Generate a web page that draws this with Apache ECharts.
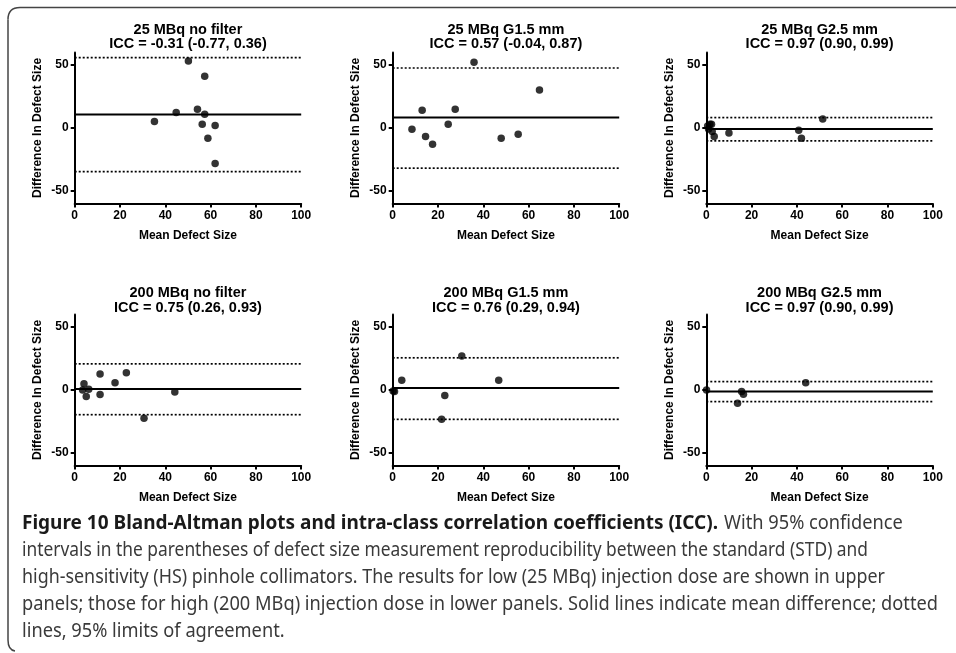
<!DOCTYPE html>
<html><head><meta charset="utf-8">
<script src="https://cdn.jsdelivr.net/npm/echarts@6/dist/echarts.min.js"></script>
<style>html,body{margin:0;padding:0;background:#fff}#c{width:956px;height:653px}</style>
</head><body><div id="c"></div>
<script>
// ---- data ----
const panelTitles = ['25 MBq no filter', '25 MBq G1.5 mm', '25 MBq G2.5 mm',
                     '200 MBq no filter', '200 MBq G1.5 mm', '200 MBq G2.5 mm'];
const iccLabels = ['ICC = -0.31 (-0.77, 0.36)', 'ICC = 0.57 (-0.04, 0.87)', 'ICC = 0.97 (0.90, 0.99)',
                   'ICC = 0.75 (0.26, 0.93)', 'ICC = 0.76 (0.29, 0.94)', 'ICC = 0.97 (0.90, 0.99)'];
const xTicks = [0, 20, 40, 60, 80, 100];
const yTicks = [-50, 0, 50];
const xName = 'Mean Defect Size';
const yName = 'Difference In Defect Size';

const p1Mean = [35.2, 44.8, 50.2, 54.2, 57.4, 57.4, 56.3, 58.8, 62.0, 62.0];
const p1Diff = [5.0, 12.2, 53.2, 14.8, 41.0, 10.8, 2.9, -8.2, 1.9, -28.3];
const p2Mean = [8.5, 13.0, 14.5, 17.6, 24.5, 27.6, 35.9, 47.9, 55.4, 64.8];
const p2Diff = [-1.1, 14.0, -6.9, -13.0, 2.9, 14.8, 52.1, -8.2, -5.0, 30.2];
const p3Mean = [0.6, 1.0, 1.6, 2.3, 2.6, 3.5, 10.0, 40.8, 42.0, 51.4];
const p3Diff = [1.6, -0.8, 2.9, 2.9, -2.9, -6.9, -4.0, -1.9, -8.2, 7.1];
const p4Mean = [3.5, 4.1, 5.1, 6.2, 11.2, 11.2, 17.8, 22.8, 30.6, 44.2];
const p4Diff = [0.0, 4.8, -5.3, 0.6, 12.7, -3.7, 5.6, 13.6, -22.6, -1.6];
const p5Mean = [0.2, 0.8, 4.0, 21.6, 23.0, 30.5, 46.8];
const p5Diff = [-0.8, -1.2, 7.7, -23.4, -4.5, 26.9, 7.7];
const p6Mean = [0.1, 13.8, 15.6, 16.4, 43.9];
const p6Diff = [0.0, -10.6, -1.3, -3.5, 5.6];

const meanDiffs = [10.6, 8.2, -0.8, 0.8, 1.6, -1.3];
const upperLoA  = [55.8, 47.6, 8.2, 20.7, 25.5, 6.6];
const lowerLoA  = [-34.7, -32.0, -10.3, -19.7, -23.4, -9.3];

const captionBold = 'Figure 10 Bland-Altman plots and intra-class correlation coefficients (ICC).';
const captionLines = [
  'With 95% confidence',
  'intervals in the parentheses of defect size measurement reproducibility between the standard (STD) and',
  'high-sensitivity (HS) pinhole collimators. The results for low (25 MBq) injection dose are shown in upper',
  'panels; those for high (200 MBq) injection dose in lower panels. Solid lines indicate mean difference; dotted',
  'lines, 95% limits of agreement.'
];

// ---- layout ----
const means = [p1Mean, p2Mean, p3Mean, p4Mean, p5Mean, p6Mean];
const diffs = [p1Diff, p2Diff, p3Diff, p4Diff, p5Diff, p6Diff];
const gridLefts = [74.7, 392.7, 706.3];
const gridW = 226.5;
const gridTops = [52.4, 314.4];
const gridH = 151;
const titleY = [[30, 44], [293, 308]];
const FF = '"Liberation Sans", Arial, sans-serif';

const grids = [], xAxes = [], yAxes = [], series = [], graphics = [];
for (let i = 0; i < 6; i++) {
  const col = i % 3, row = Math.floor(i / 3);
  grids.push({left: gridLefts[col], top: gridTops[row], width: gridW, height: gridH, outerBoundsMode: 'none', containLabel: false});
  xAxes.push({
    gridIndex: i, type: 'value', min: xTicks[0], max: xTicks[xTicks.length - 1], interval: 20,
    axisLine: {show: true, onZero: false, lineStyle: {color: '#000', width: 2}},
    axisTick: {show: true, length: 4, lineStyle: {color: '#000', width: 2}},
    axisLabel: {color: '#000', fontWeight: 'bold', fontSize: 12, fontFamily: FF, margin: 6},
    splitLine: {show: false},
    name: xName, nameLocation: 'middle', nameGap: 26,
    nameTextStyle: {color: '#000', fontWeight: 'bold', fontSize: 12, fontFamily: FF}
  });
  yAxes.push({
    gridIndex: i, type: 'value', min: -60, max: 60,
    axisLine: {show: true, onZero: false, lineStyle: {color: '#000', width: 2}},
    axisTick: {show: true, length: 4, customValues: yTicks, lineStyle: {color: '#000', width: 2}},
    axisLabel: {color: '#000', fontWeight: 'bold', fontSize: 12, fontFamily: FF, margin: 6, customValues: yTicks},
    splitLine: {show: false},
    name: yName, nameLocation: 'middle', nameGap: 31, nameRotate: 90,
    nameTextStyle: {color: '#000', fontWeight: 'bold', fontSize: 12, fontFamily: FF}
  });
  const x0 = xTicks[0], x1 = xTicks[xTicks.length - 1];
  series.push({type: 'line', xAxisIndex: i, yAxisIndex: i, data: [[x0, upperLoA[i]], [x1, upperLoA[i]]],
    symbol: 'none', silent: true, lineStyle: {color: '#000', width: 1.7, type: [2, 2]}});
  series.push({type: 'line', xAxisIndex: i, yAxisIndex: i, data: [[x0, lowerLoA[i]], [x1, lowerLoA[i]]],
    symbol: 'none', silent: true, lineStyle: {color: '#000', width: 1.7, type: [2, 2]}});
  series.push({type: 'line', xAxisIndex: i, yAxisIndex: i, data: [[x0, meanDiffs[i]], [x1, meanDiffs[i]]],
    symbol: 'none', silent: true, lineStyle: {color: '#000', width: 2}});
  series.push({type: 'scatter', xAxisIndex: i, yAxisIndex: i,
    data: means[i].map((m, k) => [m, diffs[i][k]]),
    symbol: 'circle', symbolSize: 7.5, itemStyle: {color: '#000'}});
  const cx = gridLefts[col] + gridW / 2;
  graphics.push({type: 'text', x: cx, y: titleY[row][0], silent: true,
    style: {text: panelTitles[i], font: 'bold 14.5px ' + FF, fill: '#000', align: 'center', verticalAlign: 'middle'}});
  graphics.push({type: 'text', x: cx, y: titleY[row][1], silent: true,
    style: {text: iccLabels[i], font: 'bold 14.5px ' + FF, fill: '#000', align: 'center', verticalAlign: 'middle'}});
}

// caption
const CF = '"Noto Sans", "Open Sans", sans-serif';
const ctx = document.createElement('canvas').getContext('2d');
function textW(text, font) { ctx.font = font; return ctx.measureText(text).width; }
const boldFont = 'bold 19px ' + CF, normFont = '19px ' + CF;
const capY = [524, 551, 578, 605, 632];
const capStart = 22;
const capEnds = [862, 868, 885, 938];
const sB = (718 - capStart) / textW(captionBold, boldFont);
graphics.push({type: 'text', x: capStart, y: capY[0], scaleX: sB, silent: true,
  style: {text: captionBold, font: boldFont, fill: '#1a1a1a', align: 'left', verticalAlign: 'middle'}});
const sRef = (capEnds[3] - capStart) / textW(captionLines[3], normFont);
graphics.push({type: 'text', x: 724, y: capY[0], scaleX: sRef, silent: true,
  style: {text: captionLines[0], font: normFont, fill: '#3a3a3a', align: 'left', verticalAlign: 'middle'}});
for (let k = 1; k < 5; k++) {
  const s = k < 4 ? (capEnds[k] - capStart) / textW(captionLines[k], normFont) : sRef;
  graphics.push({type: 'text', x: capStart, y: capY[k], scaleX: s, silent: true,
    style: {text: captionLines[k], font: normFont, fill: '#3a3a3a', align: 'left', verticalAlign: 'middle'}});
}
// frame
const frameStroke = {stroke: '#444', lineWidth: 1.5, fill: null};
graphics.push({type: 'line', silent: true, shape: {x1: 956, y1: 7.5, x2: 20, y2: 7.5}, style: frameStroke});
graphics.push({type: 'bezierCurve', silent: true, shape: {x1: 20, y1: 7.5, cpx1: 8, cpy1: 7.5, x2: 8, y2: 19.5}, style: frameStroke});
graphics.push({type: 'line', silent: true, shape: {x1: 8, y1: 19.5, x2: 8, y2: 640}, style: frameStroke});
graphics.push({type: 'bezierCurve', silent: true, shape: {x1: 8, y1: 640, cpx1: 8, cpy1: 650, x2: 15, y2: 651}, style: frameStroke});

const chart = echarts.init(document.getElementById('c'));
chart.setOption({
  animation: false,
  backgroundColor: '#fff',
  grid: grids, xAxis: xAxes, yAxis: yAxes, series: series,
  graphic: {elements: graphics}
});
</script></body></html>
